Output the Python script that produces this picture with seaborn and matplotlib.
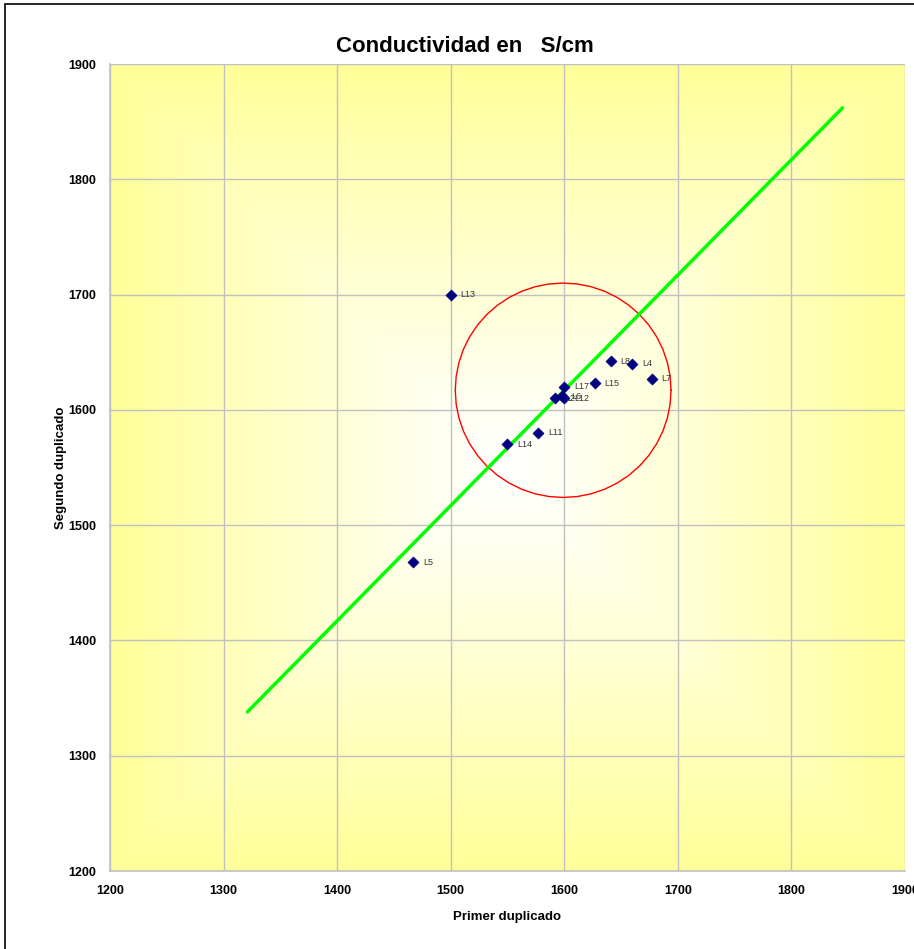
import numpy as np
import pandas as pd
import matplotlib
matplotlib.use("Agg")
import matplotlib.pyplot as plt
from matplotlib.patches import Rectangle
import seaborn as sns

# --- data ---
labels = ["L13", "L5", "L14", "L11", "L17", "L2", "L6", "L12", "L15", "L8", "L4", "L7"]
primer = [1500, 1467, 1550, 1577, 1600, 1592, 1598, 1600, 1627, 1641, 1660, 1677]
segundo = [1700, 1468, 1570, 1580, 1620, 1610, 1612, 1610, 1623, 1642, 1640, 1627]

# reference line (green)
line_x = [1321, 1845]
line_y = [1338, 1862]

# red ellipse: centre and radii
circle_center = (1599, 1617)
circle_radius = (95, 93)

ticks = [1200, 1300, 1400, 1500, 1600, 1700, 1800, 1900]

df = pd.DataFrame({"Primer duplicado": primer, "Segundo duplicado": segundo, "label": labels})

sns.set_style("white")
plt.rcParams["font.family"] = ["Liberation Sans", "DejaVu Sans"]
plt.rcParams["text.color"] = "black"
plt.rcParams["axes.labelcolor"] = "black"
plt.rcParams["xtick.color"] = "black"
plt.rcParams["ytick.color"] = "black"

fig = plt.figure(figsize=(9.14, 9.49), dpi=100)
ax = fig.add_axes([110 / 914, 78 / 949, 795 / 914, 807 / 949])

# background gradient (white centre -> yellow edges)
n = 400
u = np.linspace(-1, 1, n)
uu, vv = np.meshgrid(u, u)
t = np.maximum(np.abs(uu), np.abs(vv)) ** 1.1
white = np.array([1.0, 1.0, 1.0])
yellow = np.array([1.0, 1.0, 0.6])
img = white[None, None, :] * (1 - t[..., None]) + yellow[None, None, :] * t[..., None]
ax.imshow(img, extent=[1200, 1900, 1200, 1900], aspect="auto", origin="lower", zorder=-1)

# ellipse
theta = np.linspace(0, 2 * np.pi, 49)
ax.plot(circle_center[0] + circle_radius[0] * np.cos(theta),
        circle_center[1] + circle_radius[1] * np.sin(theta),
        color="red", lw=1.0, zorder=2)

# green line
ax.plot(line_x, line_y, color="#00FF00", lw=2.5, solid_capstyle="round", zorder=3)

# points
sns.scatterplot(data=df, x="Primer duplicado", y="Segundo duplicado", ax=ax,
                marker="D", s=32, color="#000080", edgecolor="#000080", zorder=4, legend=False)
for lab, x, y in zip(labels, primer, segundo):
    ax.annotate(lab, (x, y), xytext=(7, 0), textcoords="offset points",
                fontsize=6.5, color="#333333", va="center", zorder=5)

ax.set_xlim(1200, 1900)
ax.set_ylim(1200, 1900)
ax.set_xticks(ticks)
ax.set_yticks(ticks)
ax.grid(True, color="#C0C0C0", lw=1)
for side in ["top", "right"]:
    ax.spines[side].set_visible(False)
for side in ["left", "bottom"]:
    ax.spines[side].set_color("#C0C0C0")
    ax.spines[side].set_linewidth(1.2)
ax.tick_params(axis="both", length=4, width=1, color="#999999", direction="out",
               labelsize=9, pad=6, labelcolor="black")
for lbl in ax.get_xticklabels() + ax.get_yticklabels():
    lbl.set_fontweight("bold")
ax.set_xlabel("Primer duplicado", fontsize=9.5, fontweight="bold", labelpad=10)
ax.set_ylabel("Segundo duplicado", fontsize=9.5, fontweight="bold", labelpad=1)

fig.text(465 / 914, 1 - 46 / 949, "Conductividad en   S/cm", ha="center", va="center",
         fontsize=16, fontweight="bold", color="black")

# chart frame
fig.patches.append(Rectangle((5 / 914, -0.1), 1.2, 1.1 - 4 / 949, transform=fig.transFigure,
                             fill=False, edgecolor="black", lw=1.2))

fig.savefig("out.png", dpi=100)
